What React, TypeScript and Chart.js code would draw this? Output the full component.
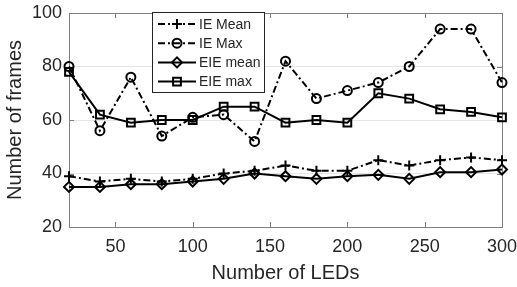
import React, { useEffect, useRef } from "react";
import { Chart, registerables } from "chart.js";
import { drawPoint } from "chart.js/helpers";

Chart.register(...registerables);

const leds = [20, 40, 60, 80, 100, 120, 140, 160, 180, 200, 220, 240, 260, 280, 300];
const ieMean = [39, 37, 38, 37, 38, 40, 41, 43, 41, 41, 45, 43, 45, 46, 45];
const ieMax = [80, 56, 76, 54, 61, 62, 52, 82, 68, 71, 74, 80, 94, 94, 74];
const eieMean = [35, 35, 36, 36, 37, 38, 40, 39, 38, 39, 39.5, 38, 40.5, 40.5, 41.5];
const eieMax = [78, 62, 59, 60, 60, 65, 65, 59, 60, 59, 70, 68, 64, 63, 61];
const seriesNames = ["IE Mean", "IE Max", "EIE mean", "EIE max"];
const xTicks = [50, 100, 150, 200, 250, 300];
const yTicks = [20, 40, 60, 80, 100];
const xTitle = "Number of LEDs";
const yTitle = "Number of frames";

const FONT = "'Liberation Sans', Arial, Helvetica, sans-serif";
const TEXT = "#262626";
const DASH_DOT = [7, 3, 2, 3];

const boxPlugin = {
  id: "boxPlugin",
  beforeDatasetsDraw(chart: any) {
    const { ctx, chartArea: a, scales } = chart;
    ctx.save();
    ctx.strokeStyle = "#7f7f7f";
    ctx.lineWidth = 1;
    ctx.beginPath();
    for (const v of xTicks) {
      const x = Math.round(scales.x.getPixelForValue(v)) + 0.5;
      ctx.moveTo(x, a.bottom);
      ctx.lineTo(x, a.bottom - 5);
      ctx.moveTo(x, a.top);
      ctx.lineTo(x, a.top + 5);
    }
    for (const v of yTicks) {
      const y = Math.round(scales.y.getPixelForValue(v)) + 0.5;
      ctx.moveTo(a.left, y);
      ctx.lineTo(a.left + 5, y);
      ctx.moveTo(a.right, y);
      ctx.lineTo(a.right - 5, y);
    }
    ctx.stroke();
    ctx.strokeRect(Math.round(a.left) + 0.5, Math.round(a.top) + 0.5, Math.round(a.right - a.left), Math.round(a.bottom - a.top));
    ctx.restore();
  },
};

const legendPlugin = {
  id: "customLegend",
  afterDraw(chart: any) {
    const { ctx } = chart;
    const bx = 152.5, by = 12.5, bw = 112, bh = 80;
    ctx.save();
    ctx.fillStyle = "#ffffff";
    ctx.fillRect(bx, by, bw, bh);
    ctx.strokeStyle = "#262626";
    ctx.lineWidth = 1;
    ctx.strokeRect(bx, by, bw, bh);
    chart.data.datasets.forEach((ds: any, i: number) => {
      const y = 24 + i * 19.2;
      ctx.save();
      ctx.strokeStyle = ds.borderColor;
      ctx.lineWidth = ds.borderWidth;
      ctx.setLineDash(ds.borderDash || []);
      ctx.beginPath();
      ctx.moveTo(158, y);
      ctx.lineTo(196, y);
      ctx.stroke();
      ctx.restore();
      ctx.save();
      ctx.strokeStyle = ds.pointBorderColor;
      ctx.fillStyle = "rgba(0,0,0,0)";
      ctx.lineWidth = ds.pointBorderWidth;
      drawPoint(ctx, { pointStyle: ds.pointStyle, radius: ds.pointRadius, borderWidth: ds.pointBorderWidth, rotation: 0 }, 177, y);
      ctx.restore();
      ctx.fillStyle = TEXT;
      ctx.font = `14px ${FONT}`;
      ctx.textBaseline = "middle";
      ctx.textAlign = "left";
      ctx.fillText(seriesNames[i], 199, y + 1);
    });
    ctx.restore();
  },
};

function makeDataset(label: string, values: number[], pointStyle: string, radius: number, dash: number[]) {
  return {
    label,
    data: leds.map((x, i) => ({ x, y: values[i] })),
    borderColor: "#000000",
    borderWidth: 2,
    borderDash: dash,
    pointStyle,
    pointRadius: radius,
    pointBorderColor: "#000000",
    pointBackgroundColor: "rgba(0,0,0,0)",
    pointBorderWidth: 2,
    tension: 0,
    clip: false,
  };
}

export default function App() {
  const ref = useRef<HTMLCanvasElement>(null);
  useEffect(() => {
    if (!ref.current) return;
    const chart = new Chart(ref.current, {
      type: "line",
      data: {
        datasets: [
          makeDataset(seriesNames[0], ieMean, "cross", 5, DASH_DOT),
          makeDataset(seriesNames[1], ieMax, "circle", 4.5, DASH_DOT),
          makeDataset(seriesNames[2], eieMean, "rectRot", 5, []),
          makeDataset(seriesNames[3], eieMax, "rect", 5.5, []),
        ] as any,
      },
      options: {
        animation: false,
        responsive: false,
        layout: { padding: { left: 0, right: 15, top: 13, bottom: 0 } },
        plugins: { legend: { display: false }, tooltip: { enabled: false } },
        scales: {
          x: {
            type: "linear",
            min: 20,
            max: 300,
            afterBuildTicks: (s: any) => {
              s.ticks = xTicks.map((v) => ({ value: v }));
            },
            afterFit: (s: any) => {
              s.height = 60;
              s.paddingLeft = 0;
              s.paddingRight = 0;
            },
            grid: { display: false, drawTicks: false },
            border: { display: false },
            ticks: { font: { family: FONT, size: 18 }, color: TEXT, padding: 9, maxRotation: 0 },
            title: {
              display: true,
              text: xTitle,
              font: { family: FONT, size: 20 },
              color: TEXT,
              padding: { top: 0, bottom: 2 },
            },
          },
          y: {
            type: "linear",
            min: 20,
            max: 100,
            afterBuildTicks: (s: any) => {
              s.ticks = yTicks.map((v) => ({ value: v }));
            },
            afterFit: (s: any) => {
              s.width = 69;
              s.paddingTop = 0;
              s.paddingBottom = 0;
            },
            grid: { color: "#e6e6e6", drawTicks: false, lineWidth: 1 },
            border: { display: false },
            ticks: { font: { family: FONT, size: 18 }, color: TEXT, padding: 7 },
            title: {
              display: true,
              text: yTitle,
              font: { family: FONT, size: 20 },
              color: TEXT,
              padding: { top: 3, bottom: 0 },
            },
          },
        },
      } as any,
      plugins: [boxPlugin, legendPlugin],
    });
    return () => chart.destroy();
  }, []);
  return (
    <div style={{ position: "fixed", left: 0, top: 0, width: 517, height: 287, background: "#fff" }}>
      <canvas ref={ref} width={517} height={287} style={{ display: "block" }} />
    </div>
  );
}
